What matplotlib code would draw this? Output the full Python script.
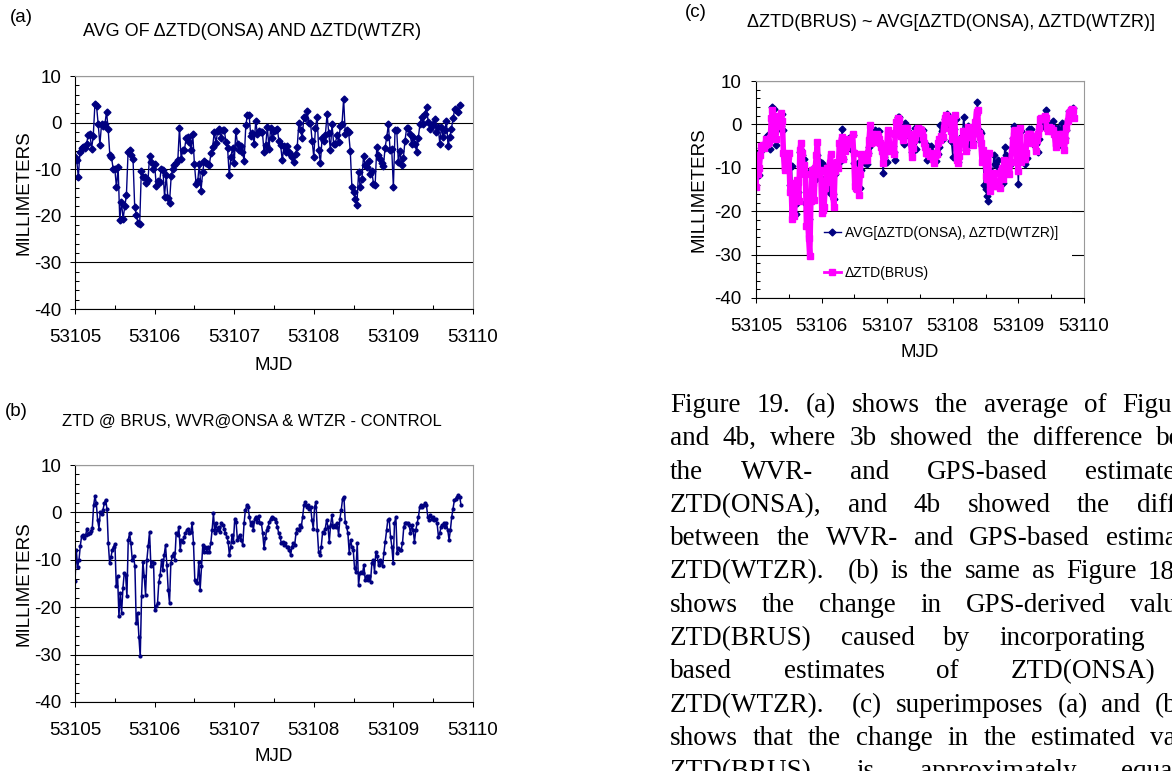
import numpy as np
import matplotlib
matplotlib.use('Agg')
import matplotlib.pyplot as plt
from matplotlib.ticker import MultipleLocator

# (a) average of dZTD(ONSA) and dZTD(WTZR), half-hourly, mm
AVG_ZTD = [-7.4, -8.0, -11.7, -6.3, -5.5, -5.2, -5.5, -4.5, -2.6, -2.4, -5.6, -2.9, 3.9, 3.5, -0.4,
           -4.7, -0.4, -0.8, -0.4, 2.3, -1.3, -7.0, -7.4, -9.9, -9.9, -13.9, -9.5, -20.9, -17.0, -20.7,
           -18.0, -15.6, -6.4, -5.9, -7.0, -7.9, -18.1, -19.8, -21.6, -21.8,
           -10.4, -11.6, -11.6, -12.9, -12.4, -7.1, -8.4, -9.9, -8.8, -13.6, -12.6, -12.7, -9.9, -10.2,
           -15.9, -11.3, -16.1, -17.2, -11.5, -9.9, -9.1, -8.6, -8.1, -1.1, -7.9, -5.8, -5.8, -3.4, -3.1,
           -4.1, -5.9, -2.4, -8.8, -13.1, -12.6, -8.8, -14.6, -10.6, -8.2, -8.6, -8.8, -9.1, -6.6, -5.2,
           -2.0, -4.4, -1.9, -1.3, -3.4, -1.5, -1.5, -4.1, -5.4, -11.3, -7.4, -5.4, -8.6, -1.8, -4.5, -5.9,
           -5.0, -6.3, -8.2, -0.6, 1.7, 1.6, -2.9, -2.2, -4.6, 0.3, -2.4, -1.9, -2.1, -2.0, -6.3, -4.9,
           -0.9, -5.6, -1.1, -3.3, -1.9, -1.6, -1.3, -4.0, -4.9, -8.1, -5.0, -6.3, -5.0, -6.3, -7.0, -7.4,
           -8.4, -6.8, -5.2, -0.1, -1.6, -3.4, 1.2, 1.0, 2.4, -0.1, 0.0, -3.9, -7.4, -1.1, 1.2, -5.9, -8.6,
           -3.4, -3.9, -2.6, 1.8, -2.2, -5.9, -0.4, -4.6, -4.5, -2.7, -4.1, -0.8, -0.4, 5.1, -2.4, -1.6,
           -2.0, -6.1, -13.9, -14.9, -16.5, -17.6, -10.7, -13.9, -12.2, -7.1, -9.1, -9.5, -8.2, -11.1,
           -10.4, -13.1, -13.4, -5.2, -7.0, -7.9, -8.6, -9.3, -5.4, -3.1, -0.4, -5.8, -5.7, -13.8, -1.6,
           -1.6, -8.4, -6.1, -9.1, -7.7, -3.9, -1.1, -1.1, -2.4, -4.5, -3.1, -4.5, -6.3, -3.4, -0.4, 1.2,
           -0.4, 1.9, 3.4, 0.1, -1.3, -0.8, -0.2, 0.7, -2.0, -0.9, -4.5, -0.9, -3.1, -1.6, 0.3, -5.1, -3.1,
           -1.3, 0.9, 3.0, 2.6, 2.3, 3.7]
AVG_START, AVG_END = 53105.0, 53109.833

# (b) dZTD(BRUS), WVR at ONSA & WTZR minus control, mm
BRUS_ZTD = [-14.4, -8.0, -11.5, -10.0, -7.0, -5.0, -4.8, -5.5, -4.8, -3.4, -4.5, -4.3, -4.0, -3.2, 1.5,
            3.4, 1.9, -1.6, -3.4, 0.1, -0.4, 0.5, 1.9, 2.7, 0.8, -6.5, -10.6, -9.5, -7.9, -7.2, -6.7,
            -15.6, -13.5, -21.9, -17.0, -21.2, -16.0, -12.8, -13.2, -17.7, -5.8, -4.4, -6.5, -10.0, -9.3,
            -11.4, -23.4, -21.2, -26.2, -30.4, -17.7, -10.4, -13.5, -17.4, -10.0, -7.0, -4.1, -11.4, -10.4,
            -10.7, -20.5, -19.8, -19.1, -14.6, -13.2, -10.0, -12.1, -9.0, -6.9, -11.1, -16.3, -19.1, -10.7,
            -9.3, -8.6, -10.0, -4.4, -4.8, -3.0, -7.9, -5.8, -6.2, -5.1, -4.4, -3.7, -3.4, -4.4, -4.1, -2.3,
            -6.5, -14.2, -14.6, -14.9, -10.4, -16.3, -11.4, -6.9, -8.3, -7.2, -8.3, -7.2, -8.3, -6.5, -3.7,
            -0.2, -4.4, -2.3, -3.7, -3.0, -4.1, -2.3, -2.7, -3.4, -4.4, -5.1, -6.2, -9.0, -7.2, -4.8, -6.2,
            -1.3, -2.0, -5.8, -5.1, -4.8, -5.8, -6.9, -2.3, 0.5, 1.5, 1.1, -0.9, -2.7, -2.0, -3.7, -1.3,
            -0.9, -2.0, -0.8, -2.3, -2.3, -4.4, -7.6, -5.5, -3.7, -3.0, -2.0, -1.3, -0.9, -1.1, -1.3, -2.0,
            -3.0, -4.4, -5.1, -6.5, -6.2, -6.9, -6.5, -7.2, -7.2, -7.9, -9.0, -7.2, -6.5, -6.9, -4.4, -3.4,
            -3.7, -2.7, -3.0, -0.9, 1.5, 2.2, 1.2, 1.5, 0.8, 1.2, -1.6, -3.4, 1.2, 2.2, -3.7, -8.3, -9.0,
            -7.2, -4.1, -4.4, -3.4, -1.6, -3.0, -6.2, -2.7, -0.6, -3.0, -2.7, -3.0, -2.3, -4.8, -1.3, 0.5,
            2.9, 3.3, -2.0, -3.0, -4.4, -8.6, -5.8, -7.2, -7.9, -11.8, -12.5, -6.5, -15.3, -12.8, -12.5,
            -12.8, -11.1, -14.2, -13.5, -14.2, -13.5, -14.6, -10.7, -10.0, -12.5, -8.3, -9.3, -11.1, -10.0,
            -10.4, -11.4, -8.6, -6.2, -3.7, -1.6, -1.3, -5.1, -7.2, -10.7, -2.3, -0.9, -8.6, -7.6, -7.9,
            -7.9, -6.5, -3.0, -2.3, -2.2, -2.3, -2.7, -4.4, -2.7, -3.7, -6.2, -3.7, -2.3, -0.9, 1.2, 1.5,
            1.2, 1.5, 1.9, 1.5, -0.9, -1.6, -0.6, -1.3, -0.9, -1.6, -1.3, -2.3, -5.1, -4.4, -3.0, -2.7,
            -2.3, -3.0, -2.3, -3.7, -5.8, -3.7, -0.9, 0.8, 2.6, 2.9, 3.3, 3.6, 3.3, 1.5]
BRUS_START, BRUS_END = 53105.0, 53109.85

TITLE_A = 'AVG OF \u0394ZTD(ONSA) AND \u0394ZTD(WTZR)'
TITLE_B = 'ZTD @ BRUS, WVR@ONSA & WTZR - CONTROL'
TITLE_C = '\u0394ZTD(BRUS) ~ AVG[\u0394ZTD(ONSA), \u0394ZTD(WTZR)]'
LEGEND_AVG = 'AVG[\u0394ZTD(ONSA), \u0394ZTD(WTZR)]'
LEGEND_BRUS = '\u0394ZTD(BRUS)'

CAPTION = [
    'Figure 19. (a) shows the average of Figures 3b',
    'and 4b, where 3b showed the difference between',
    'the WVR- and GPS-based estimates of',
    'ZTD(ONSA), and 4b showed the difference',
    'between the WVR- and GPS-based estimates of',
    'ZTD(WTZR).  (b) is the same as Figure 18b, and',
    'shows the change in GPS-derived values of',
    'ZTD(BRUS) caused by incorporating WVR-',
    'based estimates of ZTD(ONSA) and',
    'ZTD(WTZR).  (c) superimposes (a) and (b), and',
    'shows that the change in the estimated value of',
    'ZTD(BRUS) is approximately equal to',
]

NAVY = '#000080'
PINK = '#FF00FF'
W, H = 1172, 771

plt.rcParams['font.family'] = ['Liberation Sans', 'DejaVu Sans']
plt.rcParams['axes.unicode_minus'] = False

mjd_a = np.linspace(AVG_START, AVG_END, len(AVG_ZTD))
mjd_b = np.linspace(BRUS_START, BRUS_END, len(BRUS_ZTD))

fig = plt.figure(figsize=(W / 100, H / 100), dpi=100)


def px_axes(x0, y0, x1, y1):
    return fig.add_axes([x0 / W, 1 - y1 / H, (x1 - x0) / W, (y1 - y0) / H])


def style(ax, ypad, xlab_y, ylab_x):
    ax.set_xlim(53105, 53110)
    ax.set_ylim(-40, 10)
    ax.xaxis.set_major_locator(MultipleLocator(1))
    ax.xaxis.set_minor_locator(MultipleLocator(0.5))
    ax.yaxis.set_major_locator(MultipleLocator(10))
    ax.yaxis.set_minor_locator(MultipleLocator(2))
    ax.ticklabel_format(useOffset=False)
    ax.tick_params(which='major', direction='out', length=3.4, width=0.75, labelsize=13.5)
    ax.tick_params(which='minor', direction='in', length=3.1, width=0.75)
    ax.tick_params(axis='x', which='major', pad=11)
    ax.tick_params(axis='y', which='major', pad=ypad)
    for s in ['top', 'right']:
        ax.spines[s].set_color('#999999')
    for s in ax.spines.values():
        s.set_linewidth(0.8)
    ax.grid(axis='y', which='major', color='black', lw=0.8)
    ax.set_axisbelow(True)
    ax.set_xlabel('MJD', fontsize=13.5)
    ax.set_ylabel('MILLIMETERS', fontsize=13.5)
    ax.xaxis.set_label_coords(0.5, xlab_y)
    ax.yaxis.set_label_coords(ylab_x, 0.5)


# (a)
ax_a = px_axes(75, 76, 473, 309)
ax_a.plot(mjd_a, AVG_ZTD, color=NAVY, lw=1.0, marker='D', ms=3.5)
style(ax_a, 6.5, -0.204, -0.108)

# (b)
ax_b = px_axes(75, 465, 473, 702)
ax_b.plot(mjd_b, BRUS_ZTD, color=NAVY, lw=1.1, marker='o', ms=2.0)
style(ax_b, 6.5, -0.196, -0.108)

# (c)
ax_c = px_axes(756, 81, 1084, 298)
ax_c.plot(mjd_a, AVG_ZTD, color=NAVY, lw=1.0, marker='D', ms=3.5, label=LEGEND_AVG)
ax_c.plot(mjd_b, BRUS_ZTD, color=PINK, lw=4, marker='s', ms=5, label=LEGEND_BRUS)
style(ax_c, 7.2, -0.214, -0.149)
leg = ax_c.legend(loc='center left', bbox_to_anchor=(0.165, 0.207), borderaxespad=0,
                  fontsize=10, frameon=True, fancybox=False, framealpha=1,
                  facecolor='white', edgecolor='none', handlelength=1.2,
                  handletextpad=0.3, labelspacing=1.9, borderpad=1.0)
for h in leg.legend_handles:
    h.set_linewidth(1.0)
leg.legend_handles[1].set_linewidth(2.0)
leg.legend_handles[1].set_markersize(4)
leg.set_zorder(1.5)


# titles and panel letters
def ftext(x, y, s, **kw):
    return fig.text(x / W, 1 - y / H, s, va='baseline', **kw)


ftext(10, 22, '(a)', fontsize=13.5)
ftext(252, 36, TITLE_A, fontsize=13, ha='center')
ftext(5, 416, '(b)', fontsize=13.5)
ftext(252, 426, TITLE_B, fontsize=12, ha='center')
ftext(685, 17, '(c)', fontsize=13.5)
ftext(951, 27, TITLE_C, fontsize=13.1, ha='center')

# justified caption, running off the right edge like the source page;
# every space is stretched the same, so a double space counts twice
renderer = fig.canvas.get_renderer()
para_x0, para_x1 = 670, 1246
for k, line in enumerate(CAPTION):
    tokens = line.split(' ')
    words, spaces = [], []
    for tok in tokens:
        if tok:
            words.append(tok)
            spaces.append(0)
        spaces[-1] += 1
    spaces = spaces[:-1]
    yb = 412 + k * 33.3
    texts = [ftext(0, yb, wd, fontsize=19.5, family='Liberation Serif') for wd in words]
    widths = [t.get_window_extent(renderer).width for t in texts]
    unit = (para_x1 - para_x0 - sum(widths)) / sum(spaces)
    x = para_x0
    for i, (t, wd) in enumerate(zip(texts, widths)):
        t.set_x(x / W)
        if i < len(spaces):
            x += wd + unit * spaces[i]

fig.savefig('out.png', dpi=100)
